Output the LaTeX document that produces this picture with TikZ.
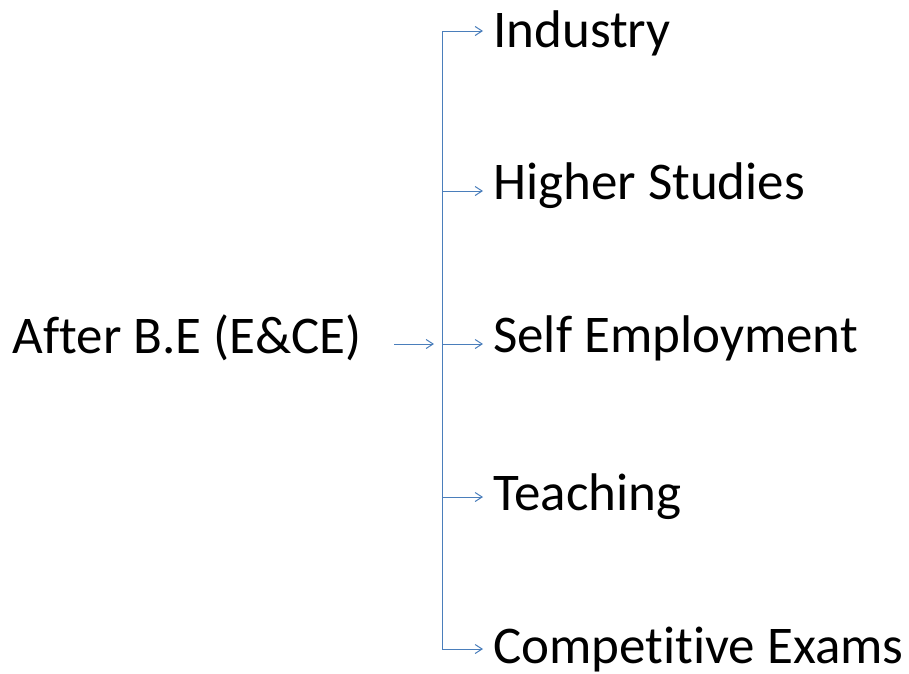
\documentclass[tikz,border=0pt]{standalone}
\usepackage{fontspec}
\setmainfont[Ligatures=NoCommon]{Carlito}
\usepackage{xcolor}
\usetikzlibrary{positioning, arrows.meta}
\definecolor{lineblue}{HTML}{4A7EBB}

\begin{document}
\begin{tikzpicture}[
			x=1pt, y=-1pt,
			item/.style={
				anchor=base west,
				inner xsep=10pt,
				inner ysep=0pt,
				font=\fontsize{53}{64}\selectfont
			},
			arr/.style={
				-{Straight Barb[length=7pt,width=9pt]},
				draw=lineblue,
				line width=1pt
			}
			]
			\useasboundingbox (0,0) rectangle (909,673);
			
			% Left box
			\node[item, anchor=base east, inner xsep=32pt] (after) at (394,353) {After B.E (E\&CE)};
			
			% Junctions on the trunk
			\coordinate (jInd) at (442,31);
			\coordinate (jHig) at (442,191);
			\coordinate (jSel) at (442,344);
			\coordinate (jTea) at (442,497);
			\coordinate (jCom) at (442,649);
			
			% Right boxes
			\node[item] (industry) at (483,47) {Industry};
			\node[item] (higher) at (483,199) {Higher Studies};
			\node[item] (self) at (483,352) {Self Employment};
			\node[item] (teaching) at (483,510) {Teaching};
			\node[item] (exams) at (483,663) {Competitive Exams};
			
			% Trunk and branches
			\draw[draw=lineblue, line width=1pt] (jInd) -- (jCom);
			\draw[arr] (after.east |- jSel) -- ([xshift=-8pt]jSel);
			\draw[arr] (jInd) -- (industry.west |- jInd);
			\draw[arr] (jHig) -- (higher.west |- jHig);
			\draw[arr] (jSel) -- (self.west |- jSel);
			\draw[arr] (jTea) -- (teaching.west |- jTea);
			\draw[arr] (jCom) -- (exams.west |- jCom);
			
		\end{tikzpicture}
\end{document}
